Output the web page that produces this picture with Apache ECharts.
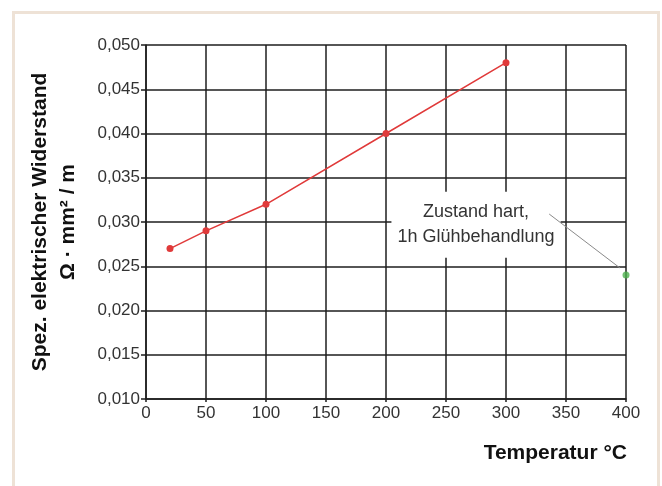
<!DOCTYPE html>
<html>
<head>
<meta charset="utf-8">
<script src="https://cdn.jsdelivr.net/npm/echarts@6/dist/echarts.min.js"></script>
<style>
  html, body { margin: 0; padding: 0; background: #fff; }
  #chart { width: 662px; height: 486px; }
</style>
</head>
<body>
<div id="chart"></div>
<script>
// Temperature (°C) and specific electrical resistance (Ω·mm²/m)
const temperatures = [20, 50, 100, 200, 300];
const resistance = [0.027, 0.029, 0.032, 0.040, 0.048];

// Hard state after 1 h annealing
const annealedPoint = [400, 0.024];
const annealedLabel = ['Zustand hart,', '1h Glühbehandlung'];
// note centre and leader line ends, in data units
const noteCenter = [275, 0.0297];
const leaderStart = [336, 0.0309];
const leaderEnd = [395, 0.0248];

const xTicks = [0, 50, 100, 150, 200, 250, 300, 350, 400];
const yTicks = [0.010, 0.015, 0.020, 0.025, 0.030, 0.035, 0.040, 0.045, 0.050];

const yTitle = ['Spez. elektrischer Widerstand', 'Ω · mm² / m'];
const xTitle = 'Temperatur °C';

const FONT = '"Liberation Sans", Arial, sans-serif';
const gridColor = '#1e1e1e';

const chart = echarts.init(document.getElementById('chart'), null, { renderer: 'canvas' });

chart.setOption({
  backgroundColor: '#fff',
  animation: false,
  grid: { left: 146, right: 36, top: 45, bottom: 87, containLabel: false },
  xAxis: {
    type: 'value',
    min: xTicks[0],
    max: xTicks[xTicks.length - 1],
    interval: xTicks[1] - xTicks[0],
    axisLine: { show: true, lineStyle: { color: gridColor, width: 1.5 } },
    axisTick: { show: true, length: 3, lineStyle: { color: gridColor, width: 1.5 } },
    splitLine: { show: true, lineStyle: { color: gridColor, width: 1.5 } },
    axisLabel: { color: '#333', fontFamily: FONT, fontSize: 17, margin: 6 }
  },
  yAxis: {
    type: 'value',
    min: yTicks[0],
    max: yTicks[yTicks.length - 1],
    interval: 0.005,
    axisLine: { show: true, lineStyle: { color: gridColor, width: 1.5 } },
    axisTick: { show: true, length: 5, lineStyle: { color: gridColor, width: 1.5 } },
    splitLine: { show: true, lineStyle: { color: gridColor, width: 1.5 } },
    axisLabel: {
      color: '#333', fontFamily: FONT, fontSize: 17, margin: 6,
      formatter: v => v.toFixed(3).replace('.', ',')
    }
  },
  series: [
    {
      type: 'line',
      data: temperatures.map((t, i) => [t, resistance[i]]),
      symbol: 'circle',
      symbolSize: 7,
      lineStyle: { color: '#e03a3a', width: 1.5 },
      itemStyle: { color: '#e03a3a' },
      z: 5
    },
    {
      type: 'scatter',
      data: [annealedPoint],
      symbol: 'circle',
      symbolSize: 7,
      itemStyle: { color: '#4cb04c' },
      z: 7
    }
  ]
});

// Axis titles, frame and the annealing note (placed through the grid's scales)
const c = chart.convertToPixel({ gridIndex: 0 }, noteCenter);
const ls = chart.convertToPixel({ gridIndex: 0 }, leaderStart);
const le = chart.convertToPixel({ gridIndex: 0 }, leaderEnd);

chart.setOption({
  graphic: [
    {
      type: 'polyline',
      shape: { points: [[13.5, 486], [13.5, 12.5], [658.5, 12.5], [658.5, 486]] },
      style: { stroke: '#eee2d6', lineWidth: 3, fill: null },
      silent: true
    },
    {
      type: 'text',
      x: 54, y: 222,
      rotation: Math.PI / 2,
      style: {
        text: yTitle.join('\n'),
        font: 'bold 21px ' + FONT,
        fill: '#111',
        align: 'center',
        verticalAlign: 'middle',
        lineHeight: 28
      }
    },
    {
      type: 'text',
      x: 627, y: 453,
      style: {
        text: xTitle,
        font: 'bold 21px ' + FONT,
        fill: '#111',
        align: 'right',
        verticalAlign: 'middle'
      }
    },
    {
      type: 'text',
      x: c[0], y: c[1],
      z: 10,
      style: {
        text: annealedLabel.join('\n'),
        font: '18px ' + FONT,
        fill: '#333',
        align: 'center',
        verticalAlign: 'middle',
        lineHeight: 25,
        backgroundColor: '#fff',
        padding: [8, 6, 8, 6]
      }
    },
    {
      type: 'line',
      z: 11,
      shape: { x1: ls[0], y1: ls[1], x2: le[0], y2: le[1] },
      style: { stroke: '#8a8a8a', lineWidth: 1 },
      silent: true
    }
  ]
});
</script>
</body>
</html>
